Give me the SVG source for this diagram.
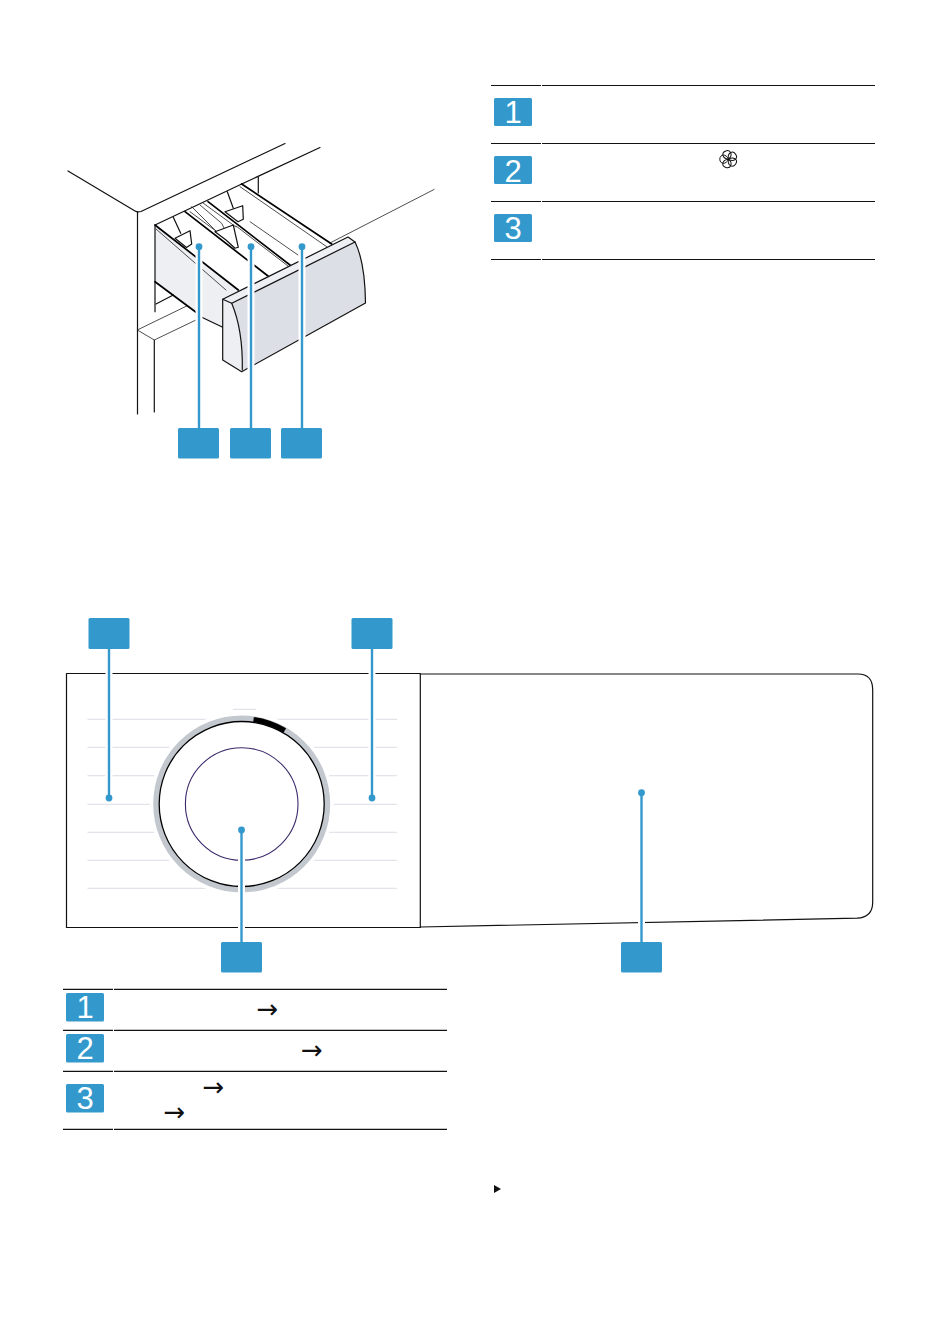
<svg xmlns="http://www.w3.org/2000/svg" width="933" height="1324" viewBox="0 0 933 1324">
<style>
.k{fill:none;stroke:#111;stroke-width:1.2;stroke-linecap:round;stroke-linejoin:round}
.b{fill:none;stroke:#000;stroke-width:1.7;stroke-linecap:round;stroke-linejoin:round}
.t{fill:none;stroke:#222;stroke-width:.8;stroke-linecap:round;stroke-linejoin:round}
.l{fill:#eeeff3}
.d{fill:#dcdfe6}
.w{fill:#fff;stroke:#111;stroke-width:1.2;stroke-linejoin:round}
.rule{stroke:#111;stroke-width:1.2;fill:none}
.tick{stroke:#e2e4ea;stroke-width:1.2;fill:none}
.box{fill:#3399cc}
.num{fill:#fff;font:31px "Liberation Sans",Arial,sans-serif;text-anchor:middle}
.arrow{fill:#111;font:26px "DejaVu Sans",sans-serif;text-anchor:middle}
.halo{stroke:#fff;stroke-width:7;fill:none}
.lead{stroke:#3399cc;stroke-width:2.400;fill:none}
.dot{fill:#3399cc}
.petal{fill:none;stroke:#111;stroke-width:1}
</style>
<defs>
  <path id="pet" class="petal" d="M0 0C-6 -2.500 -5 -8.700 0 -8.700C5 -8.700 6 -2.500 0 0Z"/>
</defs>
<rect width="933" height="1324" fill="#fff"/>

<g id="drawer">
  <path class="k" d="M68 171L135 211Q137.500 212.500 141 211.500L285 143.500"/>
  <path class="k" d="M320 147.500L241.700 184"/>
  <path class="k" d="M258.300 177V193"/>
  <path class="k" d="M137.500 212V414"/>
  <path class="k" d="M154.300 340V412"/>
  <path class="t" d="M137.300 330L154.300 340L196 320M137.300 330L186.700 306"/>
  <path class="t" d="M434 189.500L330 243"/>
  <path class="l" d="M155 225L238.300 290L222.700 299.300V327.300Q208 323 196 312.300L155 281.700Z"/>
  <path class="k" d="M155 311.700V225L241.700 184"/>
  <path class="k" d="M156 304L173.300 295"/>
  <path class="b" d="M155 225L238.300 290"/>
  <path class="t" d="M156 229L226 290"/>
  <path class="b" d="M155 281.700L196 312.300"/>
  <path class="k" d="M200.700 316.700L222.700 327.300"/>
  <path class="b" d="M241.700 184L331.700 244"/>
  <path class="t" d="M240 186.700L326.700 246.700"/>
  <path class="t" d="M250 221.700L298 255"/>
  <path class="b" d="M185 211.700L268 276"/>
  <path class="t" d="M190 211.700L232 243"/>
  <path class="b" d="M208 201.700L290 265"/>
  <path class="t" d="M203 203L236 227M236 226L288 266"/>
  <path class="k" d="M173.300 217.300L180.700 233.300"/>
  <path class="w" d="M175 238.300L190 230.700L191.700 244L186.500 247.500Z"/>
  <path class="k" d="M227.300 191.700L233.300 208.300"/>
  <path class="w" d="M225 211.700L242.700 205.700L243.300 219.300L238 221.700Z"/>
  <path class="t" d="M191.700 206.700L216.700 231.700L225 230L221.700 223.300L200 205"/>
  <path class="w" d="M215 231.700L233.300 225L238.300 247.300L235 248.300L226 240Z"/>
  <path class="d" d="M231.700 303.300L355 242Q365 262 365.500 303L248.300 368L242.300 370Q243 330 231.700 303.300Z"/>
  <path class="l" d="M222.700 299.300L231.700 303.300Q243 330 242.300 371L222.700 360Z"/>
  <path class="l" d="M222.700 299.300L348 237L355 242L231.700 303.300Z"/>
  <path class="k" d="M222.700 299.300L348 237L355 242Q365 262 365.500 303L248.300 368L241.700 371.700L222.700 360Z"/>
  <path class="k" d="M231.700 303.300L355 242"/>
  <path class="k" d="M222.700 299.300L231.700 303.300Q243 330 242.300 370"/>
</g>

<g id="legend-top">
  <path class="rule" d="M491 85.500H541M542 85.500H875M491 143.500H541M542 143.500H875M491 201.500H541M542 201.500H875M491 259.500H541M542 259.500H875"/>
  <g id="legend-top-1"><rect class="box" x="494" y="98" width="38" height="28" rx="1.500"/><text class="num" x="513" y="123.300">1</text></g>
  <g id="legend-top-2"><rect class="box" x="494" y="156" width="38" height="28" rx="1.500"/><text class="num" x="513" y="181.600">2</text></g>
  <g id="legend-top-3"><rect class="box" x="494" y="214" width="38" height="28" rx="1.500"/><text class="num" x="513" y="239.400">3</text></g>
  <g id="flower" transform="translate(728.500 159.200)">
    <use href="#pet" transform="rotate(-18)"/>
    <use href="#pet" transform="rotate(54)"/>
    <use href="#pet" transform="rotate(126)"/>
    <use href="#pet" transform="rotate(198)"/>
    <use href="#pet" transform="rotate(270)"/>
  </g>
</g>

<g id="panel">
  <path class="tick" d="M87.500 719.300H397M87.500 747.300H397M87.500 775.700H397M87.500 804.300H397M87.500 832.300H397M87.500 860.300H397M87.500 888.300H397M233 709.300H256"/>
  <path class="k" d="M420.300 674H858Q872.700 674 872.700 690V902Q872.700 917.500 857 918.200L420.300 927"/>
  <rect class="k" x="66.500" y="673.500" width="353.800" height="254"/>
  <g id="dial">
    <circle cx="241.700" cy="804" r="92" fill="#fff"/>
    <circle cx="241.700" cy="804" r="85.500" fill="none" stroke="#c3c8cf" stroke-width="6"/>
    <path d="M253.500 719.800A85 85 0 0 1 284.700 730.700" fill="none" stroke="#000" stroke-width="5.500"/>
    <circle cx="241.700" cy="804" r="82.500" fill="#fff" stroke="#000" stroke-width="1.300"/>
    <circle cx="241.700" cy="804" r="56.300" fill="none" stroke="#3d2a6b" stroke-width="1.100"/>
  </g>
</g>

<g id="legend-bottom">
  <path class="rule" d="M63 989.300H113M114 989.300H447M63 1030.300H113M114 1030.300H447M63 1071.300H113M114 1071.300H447M63 1129.300H113M114 1129.300H447"/>
  <g id="legend-bottom-1"><rect class="box" x="66" y="993" width="38" height="28.500" rx="1.500"/><text class="num" x="85" y="1018.300">1</text></g>
  <g id="legend-bottom-2"><rect class="box" x="66" y="1034" width="38" height="28.500" rx="1.500"/><text class="num" x="85" y="1059.300">2</text></g>
  <g id="legend-bottom-3"><rect class="box" x="66" y="1084" width="38" height="28.500" rx="1.500"/><text class="num" x="85" y="1108.800">3</text></g>
  <text class="arrow" x="267.500" y="1018">→</text>
  <text class="arrow" x="312" y="1059">→</text>
  <text class="arrow" x="213.500" y="1095.500">→</text>
  <text class="arrow" x="174.500" y="1120.500">→</text>
</g>

<g id="bullet"><polygon points="494,1185 501,1189 494,1193" fill="#111"/></g>

<g id="connectors">
  <path class="halo" d="M199 252V428M251 252V428M302 252V428M109 649V790M372 649V790M241.500 838V942M641.500 800V942"/>
  <path class="lead" d="M199 246.700V428M251 246.700V428M302 246.700V428M109 649V798M372 649V798M241.500 830V942M641.500 792.700V942"/>
  <circle class="dot" cx="199" cy="246.700" r="3.400"/>
  <circle class="dot" cx="251" cy="246.700" r="3.400"/>
  <circle class="dot" cx="302" cy="246.700" r="3.400"/>
  <circle class="dot" cx="109" cy="798" r="3.400"/>
  <circle class="dot" cx="372" cy="798" r="3.400"/>
  <circle class="dot" cx="241.500" cy="830" r="3.400"/>
  <circle class="dot" cx="641.500" cy="792.700" r="3.400"/>
</g>

<g id="callout-a"><rect class="box" x="178" y="428" width="41" height="30.500" rx="1.500"/></g>
<g id="callout-b"><rect class="box" x="230" y="428" width="41" height="30.500" rx="1.500"/></g>
<g id="callout-c"><rect class="box" x="281" y="428" width="41" height="30.500" rx="1.500"/></g>
<g id="callout-d"><rect class="box" x="88.500" y="618" width="41" height="31" rx="1.500"/></g>
<g id="callout-e"><rect class="box" x="351.500" y="618" width="41" height="31" rx="1.500"/></g>
<g id="callout-f"><rect class="box" x="221" y="942" width="41" height="30.500" rx="1.500"/></g>
<g id="callout-g"><rect class="box" x="621" y="942" width="41" height="30.500" rx="1.500"/></g>
</svg>
